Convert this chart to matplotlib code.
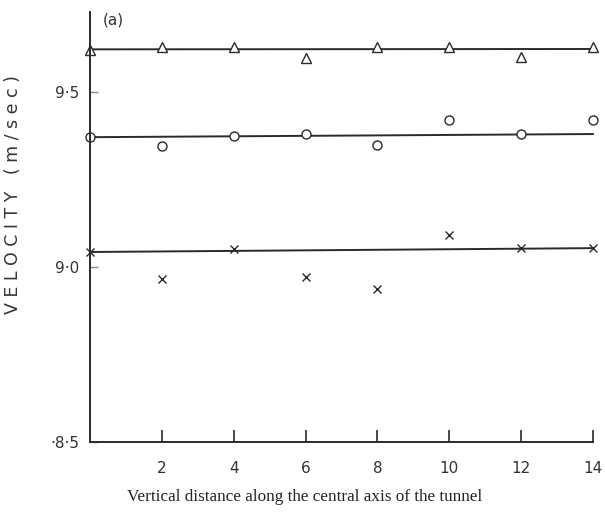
import numpy as np
from matplotlib import pyplot as plt

distance = [0, 2, 4, 6, 8, 10, 12, 14]
vel_triangle = [9.62, 9.63, 9.63, 9.597, 9.63, 9.63, 9.60, 9.63]
vel_circle = [9.371, 9.346, 9.374, 9.38, 9.349, 9.42, 9.38, 9.42]
vel_cross = [9.043, 8.966, 9.051, 8.971, 8.937, 9.091, 9.054, 9.054]

# hand-drawn mean lines (ends at x=0 and x=14)
line_x = [0, 14]
line_triangle = [9.622, 9.623]
line_circle = [9.371, 9.38]
line_cross = [9.043, 9.054]

xticks = [2, 4, 6, 8, 10, 12, 14]
yticks = [8.5, 9.0, 9.5]
ytick_labels = ['·8·5', '9·0', '9·5']

ink = '#2a2a2a'

fig = plt.figure(figsize=(6.05, 5.17), dpi=100)
ax = fig.add_axes([0.149, 0.145, 0.831, 0.832])

for ly in [line_triangle, line_circle, line_cross]:
    ax.plot(line_x, ly, color=ink, lw=1.4, clip_on=False)

ax.plot(distance, vel_triangle, ls='none', marker='^', ms=7, mfc='white',
        mec=ink, mew=1.0, clip_on=False)
ax.plot(distance, vel_circle, ls='none', marker='o', ms=6.5, mfc='white',
        mec=ink, mew=1.0, clip_on=False)
ax.plot(distance, vel_cross, ls='none', marker='x', ms=5.5, mec=ink,
        mew=1.0, clip_on=False)

ax.set_xlim(0, 14)
ax.set_ylim(8.5, 9.729)
ax.spines['top'].set_visible(False)
ax.spines['right'].set_visible(False)
ax.spines['left'].set_color(ink)
ax.spines['bottom'].set_color(ink)
ax.spines['left'].set_linewidth(1.4)
ax.spines['bottom'].set_linewidth(1.4)

ax.set_xticks(xticks)
ax.set_xticklabels([str(t) for t in xticks], fontsize=11, color='#333333')
ax.set_yticks(yticks)
ax.set_yticklabels(ytick_labels, fontsize=11, color='#333333')
ax.tick_params(axis='x', direction='in', length=9, width=1.2, color=ink, pad=14)
ax.tick_params(axis='y', direction='in', length=6, width=1.0, color='#888888', pad=8)

ax.set_ylabel('V E L O C I T Y   ( m / s e c )', fontsize=12.5, color='#333333')
ax.yaxis.set_label_coords(-0.135, 0.575)
ax.set_xlabel('Vertical distance along the central axis of the tunnel',
              fontsize=12.3, family='Liberation Serif', color='#222222')
ax.xaxis.set_label_coords(0.427, -0.11)
ax.text(0.35, 9.705, '(a)', fontsize=11, color='#333333', va='center')

fig.savefig('out.png', dpi=100)
